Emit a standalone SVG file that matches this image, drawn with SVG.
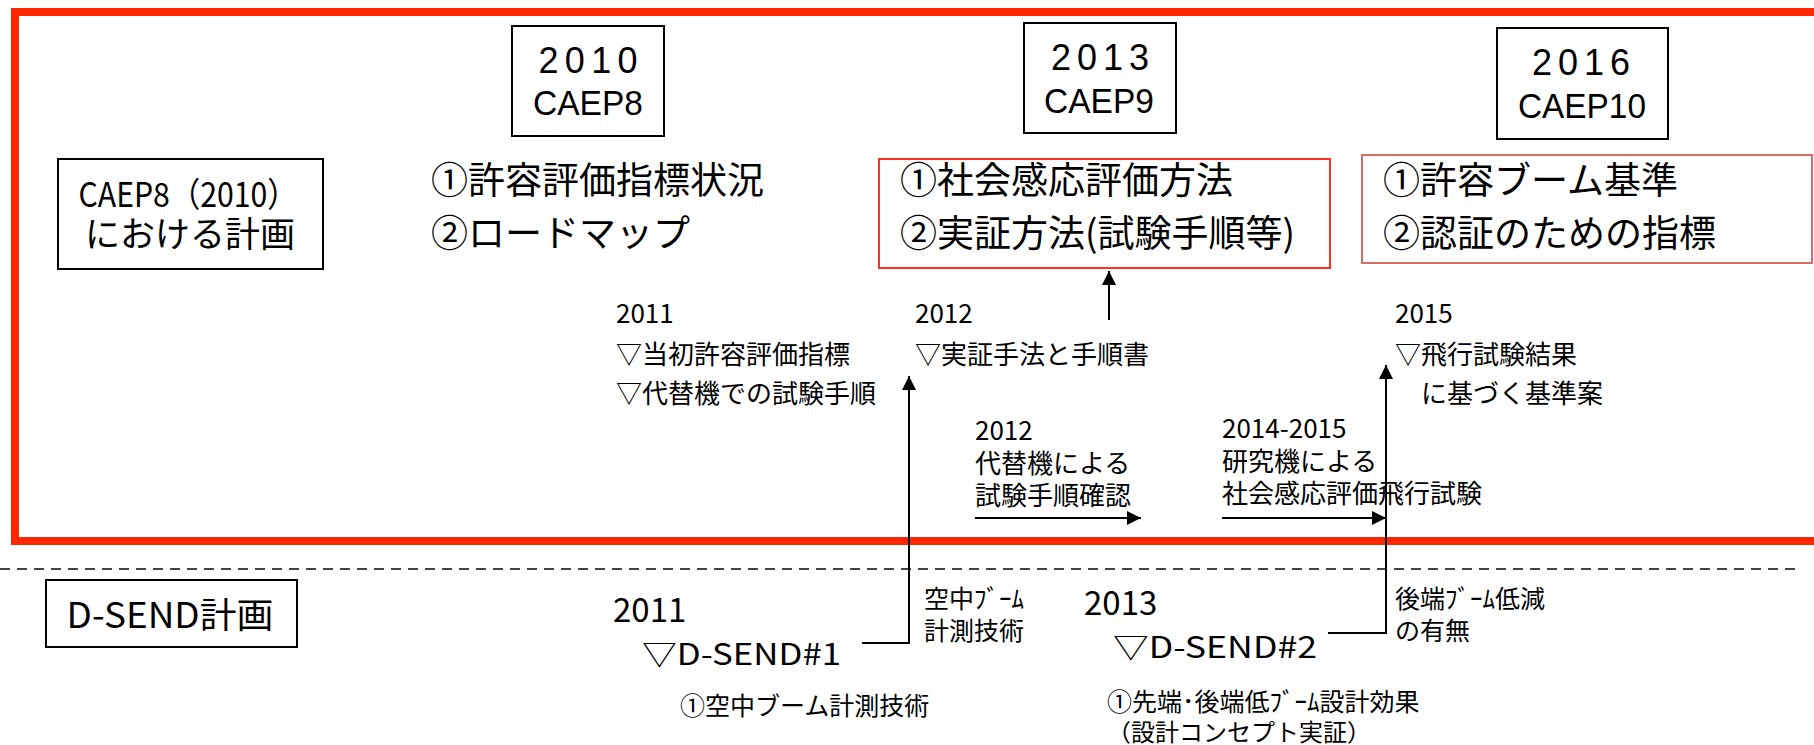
<svg xmlns="http://www.w3.org/2000/svg" width="1814" height="745" viewBox="0 0 1814 745">
<defs>
<marker id="ah" viewBox="0 0 10 10" refX="10" refY="5" markerWidth="15" markerHeight="14" markerUnits="userSpaceOnUse" orient="auto">
<path d="M0,0 L10,5 L0,10 z" fill="#000"/>
</marker>
<style>
text{font-family:"Noto Sans CJK JP","Liberation Sans",sans-serif;fill:#000}
.box{fill:#fff;stroke:#000;stroke-width:2}
.yr{font-family:"Liberation Sans","Noto Sans CJK JP",sans-serif;font-size:36px;text-anchor:middle}
.caep{font-family:"Liberation Sans","Noto Sans CJK JP",sans-serif;font-size:35px;text-anchor:middle}
.big{font-size:37px}
.mid{font-size:26px}
.sm{font-size:25px}
.conn{fill:none;stroke:#000;stroke-width:2}
</style>
</defs>
<rect x="15" y="12" width="1840" height="529" fill="none" stroke="#ff2600" stroke-width="8"/>
<line x1="0" y1="569" x2="1801" y2="569" stroke="#444" stroke-width="2" stroke-dasharray="10,7"/>

<g id="plan-caep">
<rect class="box" x="58" y="159" width="265" height="110"/>
<text x="188" y="207" font-size="34" text-anchor="middle" textLength="219" lengthAdjust="spacingAndGlyphs">CAEP8（2010）</text>
<text x="190" y="247" font-size="35" text-anchor="middle">における計画</text>
</g>
<g id="caep8">
<rect class="box" x="512" y="26" width="152" height="110"/>
<text class="yr" x="588" y="73" textLength="99" lengthAdjust="spacing">2010</text>
<text class="caep" x="588" y="115" textLength="110" lengthAdjust="spacingAndGlyphs">CAEP8</text>
</g>
<g id="caep9">
<rect class="box" x="1024" y="23" width="152" height="110"/>
<text class="yr" x="1100" y="70" textLength="98" lengthAdjust="spacing">2013</text>
<text class="caep" x="1099" y="113" textLength="110" lengthAdjust="spacingAndGlyphs">CAEP9</text>
</g>
<g id="caep10">
<rect class="box" x="1497" y="28" width="171" height="111"/>
<text class="yr" x="1581" y="75" textLength="98" lengthAdjust="spacing">2016</text>
<text class="caep" x="1582" y="118" textLength="128" lengthAdjust="spacingAndGlyphs">CAEP10</text>
</g>
<g id="caep8-items">
<text class="big" x="431" y="194">①許容評価指標状況</text>
<text class="big" x="431" y="247">②ロードマップ</text>
</g>
<g id="caep9-items">
<rect x="879" y="159" width="451" height="109" fill="none" stroke="#ff3020" stroke-width="2"/>
<text class="big" x="900" y="194">①社会感応評価方法</text>
<text class="big" x="900" y="247">②実証方法(試験手順等)</text>
</g>
<g id="caep10-items">
<rect x="1362" y="155" width="450" height="108" fill="none" stroke="#d96b6b" stroke-width="2"/>
<text class="big" x="1383" y="194">①許容ブーム基準</text>
<text class="big" x="1383" y="247">②認証のための指標</text>
</g>
<g id="m2011">
<text class="mid" x="616" y="323">2011</text>
<text class="mid" x="616" y="364">▽当初許容評価指標</text>
<text class="mid" x="616" y="403">▽代替機での試験手順</text>
</g>
<g id="m2012">
<text class="mid" x="915" y="323">2012</text>
<text class="mid" x="915" y="364">▽実証手法と手順書</text>
</g>
<g id="m2015">
<text class="mid" x="1395" y="323">2015</text>
<text class="mid" x="1395" y="364">▽飛行試験結果</text>
<text class="mid" x="1421" y="403">に基づく基準案</text>
</g>
<g id="p2012">
<text class="mid" x="975" y="440">2012</text>
<text class="mid" x="975" y="473">代替機による</text>
<text class="mid" x="975" y="505">試験手順確認</text>
</g>
<g id="p2014">
<text class="mid" x="1222" y="438">2014-2015</text>
<text class="mid" x="1222" y="471">研究機による</text>
<text class="mid" x="1222" y="503">社会感応評価飛行試験</text>
</g>
<g id="dsend-plan">
<rect class="box" x="46" y="580" width="251" height="67"/>
<text x="170" y="628" font-size="35" text-anchor="middle" textLength="207" lengthAdjust="spacingAndGlyphs">D-SEND計画</text>
</g>
<g id="dsend1">
<text x="613" y="622" font-size="33">2011</text>
<text x="642" y="665" font-size="30" textLength="199" lengthAdjust="spacingAndGlyphs">▽D-SEND#1</text>
<text class="sm" x="680" y="715">①空中ブーム計測技術</text>
</g>
<g id="dsend1-label">
<text class="sm" x="924" y="608">空中ﾌﾞｰﾑ</text>
<text class="sm" x="924" y="640">計測技術</text>
</g>
<g id="dsend2">
<text x="1084" y="615" font-size="33">2013</text>
<text x="1113" y="658" font-size="30" textLength="204" lengthAdjust="spacingAndGlyphs">▽D-SEND#2</text>
<text class="sm" x="1107" y="711">①先端･後端低ﾌﾞｰﾑ設計効果</text>
<text x="1107" y="741" font-size="24">（設計コンセプト実証）</text>
</g>
<g id="dsend2-label">
<text class="sm" x="1395" y="608">後端ﾌﾞｰﾑ低減</text>
<text class="sm" x="1395" y="640">の有無</text>
</g>
<g id="connectors">
<line class="conn" x1="1109" y1="320" x2="1109" y2="271" marker-end="url(#ah)"/>
<polyline class="conn" points="862,643 909,643 909,376" marker-end="url(#ah)"/>
<polyline class="conn" points="1328,633 1386,633 1386,365" marker-end="url(#ah)"/>
<line class="conn" x1="975" y1="518" x2="1141" y2="518" marker-end="url(#ah)"/>
<line class="conn" x1="1222" y1="518" x2="1386" y2="518" marker-end="url(#ah)"/>
</g>
</svg>
